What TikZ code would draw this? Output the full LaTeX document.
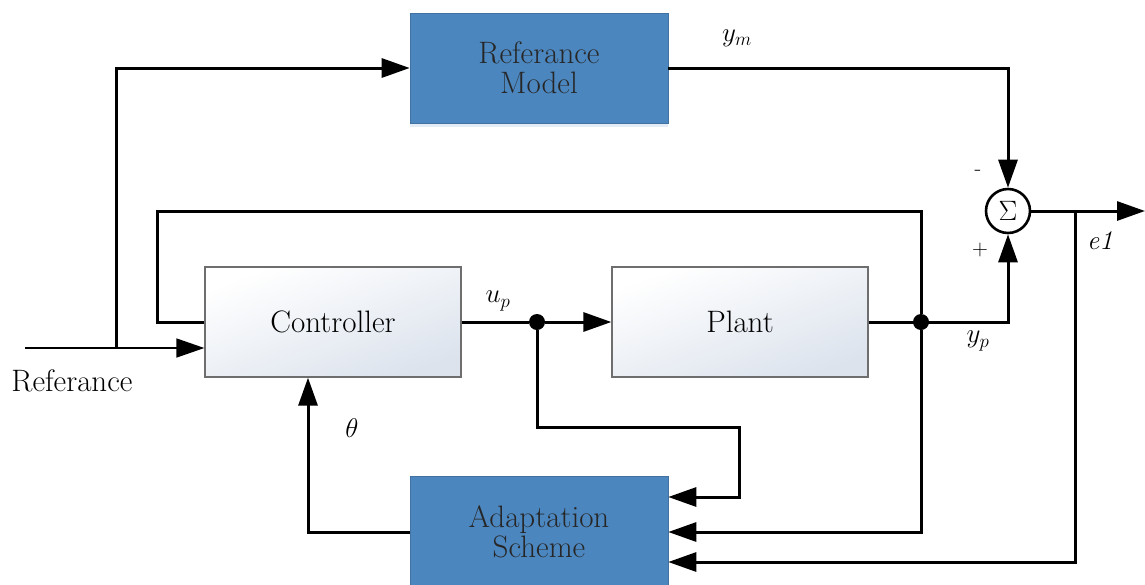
\documentclass[tikz,border=0pt]{standalone}
\usepackage{fix-cm}
\usepackage{fontspec}
\usetikzlibrary{arrows.meta,calc,shadows}
\definecolor{boxblue}{RGB}{76,134,190}
\definecolor{boxedge}{RGB}{110,110,110}
\definecolor{lightend}{RGB}{220,227,237}
\begin{document}
\begin{tikzpicture}[x=1pt,y=-1pt,
  wire/.style={line width=3pt},
  thinwire/.style={line width=1.6pt},
  arr/.style={-{Triangle[length=28pt,width=19pt]}},
  bluebox/.style={rectangle,draw=boxblue!85!black,line width=0.6pt,fill=boxblue,
     text=black!85,align=center,font=\fontsize{31}{36}\selectfont,
     drop shadow={shadow xshift=0pt,shadow yshift=-4pt,opacity=0.25,fill=boxblue!60}},
  greybox/.style={rectangle,draw=boxedge,line width=1.3pt,
     top color=white,bottom color=lightend,shading angle=20,
     align=center,font=\fontsize{31}{36}\selectfont},
  sumnode/.style={circle,draw,line width=2.6pt,minimum size=44pt,inner sep=0pt,fill=white},
  dotnode/.style={circle,fill=black,minimum size=16pt,inner sep=0pt},
  lbl/.style={font=\fontsize{27}{30}\selectfont},
  sgn/.style={font=\fontsize{22}{24}\selectfont}
]
\useasboundingbox (0,0) rectangle (1145,584);
\fill[white] (0,0) rectangle (1145,584);

% blocks
\node[bluebox,minimum width=258pt,minimum height=110pt] (refmodel) at (539,68) {Referance\\[-6pt]Model};
\node[greybox,minimum width=256pt,minimum height=110pt] (controller) at (333,322) {Controller};
\node[greybox,minimum width=256pt,minimum height=110pt] (plant) at (740,322) {Plant};
\node[bluebox,minimum width=258pt,minimum height=112pt] (adapt) at (539,532) {Adaptation\\[-6pt]Scheme};
\node[sumnode] (sum) at (1008,211) {\fontsize{28}{30}\selectfont$\Sigma$};

% junctions
\coordinate (refin) at (25,348);
\coordinate (jref) at (116,348);
\node[dotnode] (du) at (537,322) {};
\node[dotnode] (dy) at (921,322) {};
\coordinate (loopc) at (157,211);
\coordinate (c1) at (739,427);
\coordinate (je) at (1075,211);
\coordinate (out) at (1145,211);

% wires
\draw[thinwire,arr] (refin) -- (refin -| controller.west);
\draw[wire,arr] (jref) |- (refmodel.west);
\draw[wire,arr] (refmodel.east) -| (sum.north);
\draw[wire] (dy) |- (loopc) |- (controller.west);
\draw[wire] (controller.east) -- (du);
\draw[wire,arr] (du) -- (plant.west);
\draw[wire,arr] (plant.east) -| (sum.south);
\draw[wire,arr] (du) |- (c1) |- ([yshift=35pt]adapt.east);
\draw[wire,arr] (dy) |- (adapt.east);
\draw[wire,arr] (sum.east) -- (out);
\draw[wire,arr] (je) |- ([yshift=-30pt]adapt.east);
\draw[wire,arr] (adapt.west) -| ([xshift=-25pt]controller.south);

% labels
\node[lbl] (lym) at (737,38) {$y_m$};
\node[lbl] (lup) at (498,301) {$u_p$};
\node[lbl] (lyp) at (978,341) {$y_p$};
\node[lbl] (le1) at (1100,241) {\textit{e1}};
\node[lbl] (lth) at (352,428) {$\theta$};
\node[sgn] (lminus) at (978,173) {-};
\node[sgn] (lplus) at (980,250) {+};
\node[font=\fontsize{31}{36}\selectfont] (lref) at (72,381) {Referance};
\end{tikzpicture}
\end{document}
